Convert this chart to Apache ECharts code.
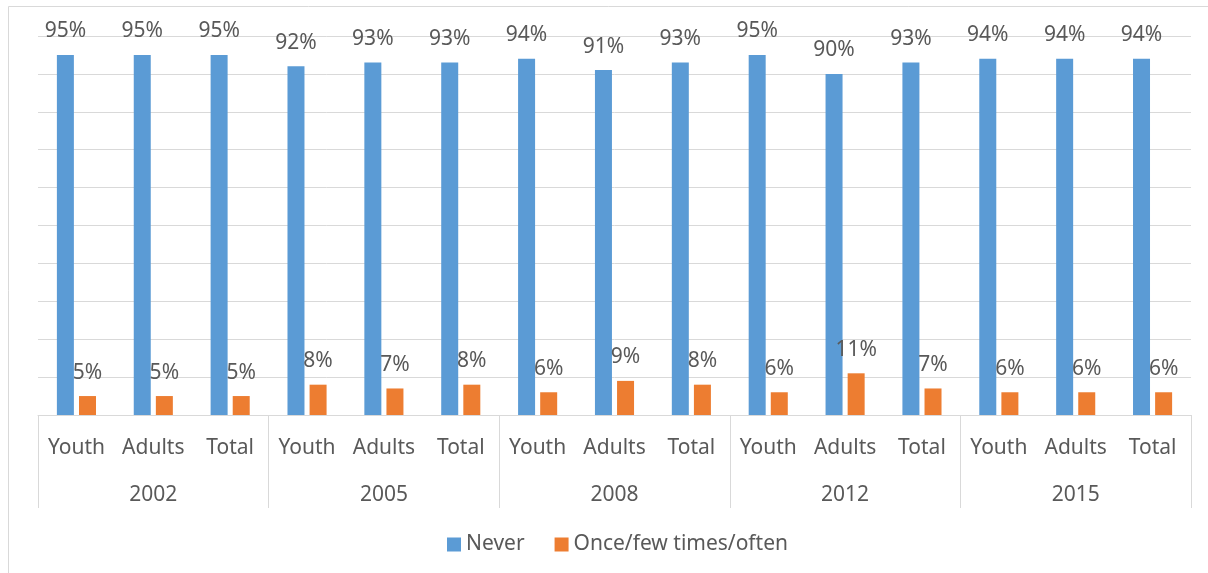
<!DOCTYPE html>
<html>
<head>
<meta charset="utf-8">
<script src="https://cdn.jsdelivr.net/npm/echarts@6/dist/echarts.min.js"></script>
<style>
html,body{margin:0;padding:0;background:#fff;}
#chart{width:1208px;height:573px;}
</style>
</head>
<body>
<div id="chart"></div>
<script>
const groups = ['Youth','Adults','Total','Youth','Adults','Total','Youth','Adults','Total','Youth','Adults','Total','Youth','Adults','Total'];
const years = ['2002','2005','2008','2012','2015'];
const never = [95,95,95,92,93,93,94,91,93,95,90,93,94,94,94];
const often = [5,5,5,8,7,8,6,9,8,6,11,7,6,6,6];
const seriesNames = ['Never','Once/few times/often'];

const txt = '#595959';
const font = 'Noto Sans';
const fs = 21;
const chart = echarts.init(document.getElementById('chart'));
chart.setOption({
  backgroundColor: '#fff',
  animation: false,
  textStyle: {fontFamily: font},
  graphic: [{
    type: 'rect', silent: true,
    shape: {x: 8.5, y: 6.5, width: 1220, height: 600},
    style: {fill: 'none', stroke: '#d9d9d9', lineWidth: 1}
  }],
  grid: {left: 38, right: 17, top: 36, bottom: 158, containLabel: false},
  legend: {
    left: 447, top: 534, padding: 0,
    itemWidth: 14, itemHeight: 14, itemGap: 30,
    icon: 'rect',
    textStyle: {fontSize: fs, color: txt, fontFamily: font},
    data: seriesNames
  },
  xAxis: [{
    type: 'category', data: groups, position: 'bottom',
    axisLine: {show: true, lineStyle: {color: '#d9d9d9', width: 1}},
    axisTick: {show: false},
    axisLabel: {margin: 23, fontSize: fs, color: txt, fontFamily: font, interval: 0}
  }, {
    type: 'category', data: years, position: 'bottom',
    axisLine: {show: false},
    axisTick: {show: true, length: 93, lineStyle: {color: '#d9d9d9', width: 1}},
    axisLabel: {margin: 70, fontSize: fs, color: txt, fontFamily: font, interval: 0}
  }],
  yAxis: {
    type: 'value', min: 0, max: 100, interval: 10,
    axisLabel: {show: false}, axisLine: {show: false}, axisTick: {show: false},
    splitLine: {lineStyle: {color: '#d9d9d9', width: 1}}
  },
  series: [{
    name: seriesNames[0], type: 'bar', xAxisIndex: 0, data: never,
    barWidth: 17, barGap: '30%',
    itemStyle: {color: '#5B9BD5'},
    label: {show: true, position: 'top', distance: 13, formatter: '{c}%', fontSize: fs, color: txt, fontFamily: font}
  }, {
    name: seriesNames[1], type: 'bar', xAxisIndex: 0, data: often,
    barWidth: 17, barGap: '30%',
    itemStyle: {color: '#ED7D31'},
    label: {show: true, position: 'top', distance: 13, formatter: '{c}%', fontSize: fs, color: txt, fontFamily: font}
  }]
});
</script>
</body>
</html>
